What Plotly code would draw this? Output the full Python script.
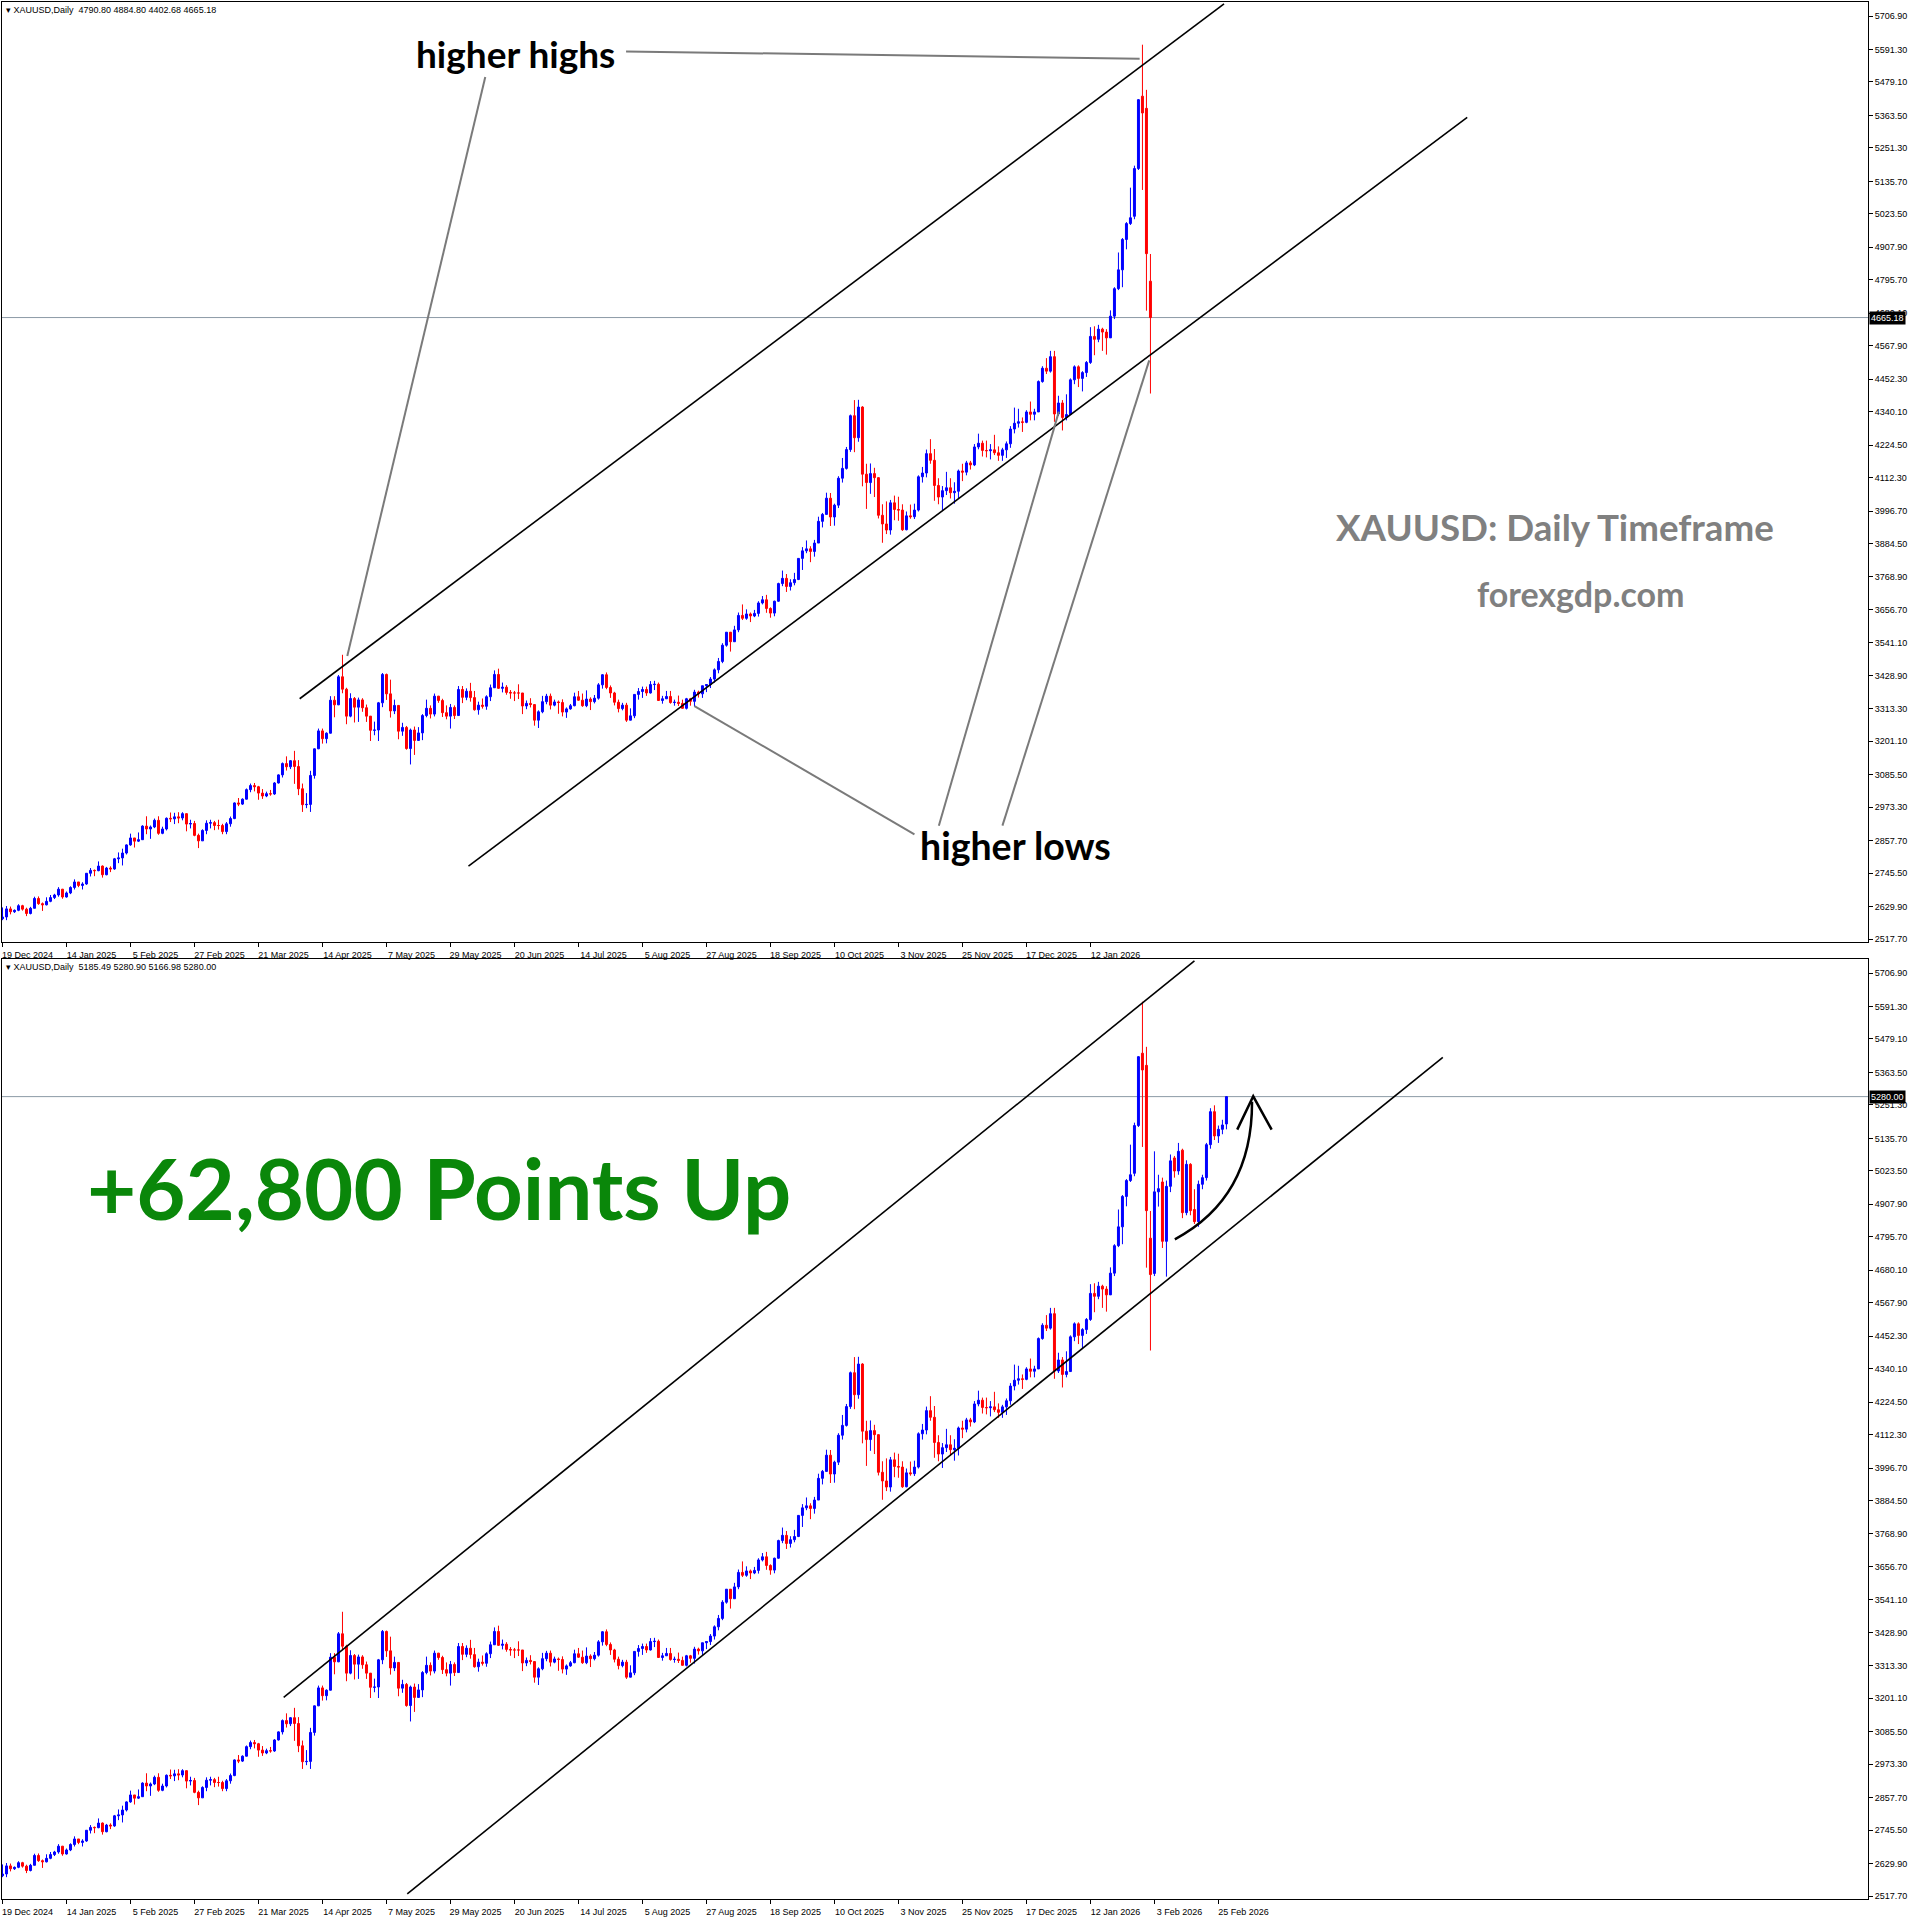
import plotly.graph_objects as go

# ---------------- DATA (XAUUSD daily) ----------------
date_labels = ["19 Dec 2024", "14 Jan 2025", "5 Feb 2025", "27 Feb 2025", "21 Mar 2025",
               "14 Apr 2025", "7 May 2025", "29 May 2025", "20 Jun 2025", "14 Jul 2025",
               "5 Aug 2025", "27 Aug 2025", "18 Sep 2025", "10 Oct 2025", "3 Nov 2025",
               "25 Nov 2025", "17 Dec 2025", "12 Jan 2026", "3 Feb 2026", "25 Feb 2026"]
date_label_bars = [0, 16, 32, 48, 64, 80, 96, 112, 128, 144, 160, 176, 192, 208, 224, 240, 256, 272, 288, 304]

price_ticks = [5706.90, 5591.30, 5479.10, 5363.50, 5251.30, 5135.70, 5023.50, 4907.90, 4795.70,
               4680.10, 4567.90, 4452.30, 4340.10, 4224.50, 4112.30, 3996.70, 3884.50, 3768.90,
               3656.70, 3541.10, 3428.90, 3313.30, 3201.10, 3085.50, 2973.30, 2857.70, 2745.50,
               2629.90, 2517.70]

opens = [
    # Dec 2024
    2588, 2594, 2622, 2612, 2617, 2633, 2621, 2606,
    # Jan 2025
    2624, 2658, 2640, 2636, 2648, 2661, 2670, 2690, 2663, 2677, 2696, 2715, 2703, 2708, 2745, 2755, 2754, 2770, 2740, 2763, 2760, 2795,
    # Feb
    2798, 2815, 2843, 2867, 2856, 2861, 2908, 2898, 2905, 2928, 2883, 2898, 2935, 2933, 2940, 2936, 2951, 2915, 2917, 2876,
    # Mar
    2857, 2893, 2918, 2920, 2910, 2910, 2889, 2916, 2934, 2988, 2984, 3001, 3034, 3048, 3044, 3022, 3012, 3020, 3019, 3057, 3085,
    # Apr
    3124, 3113, 3134, 3114, 3037, 2982, 2983, 3083, 3175, 3237, 3210, 3229, 3343, 3327, 3424, 3381, 3288, 3349, 3319, 3344, 3317,
    # May
    3288, 3239, 3240, 3334, 3432, 3365, 3306, 3325, 3236, 3249, 3176, 3240, 3204, 3230, 3290, 3315, 3295, 3357, 3342, 3300, 3288, 3318,
    # Jun
    3290, 3380, 3353, 3374, 3352, 3310, 3326, 3322, 3355, 3386, 3432, 3384, 3388, 3370, 3368, 3368, 3368, 3323, 3332, 3328, 3274,
    # Jul
    3303, 3338, 3357, 3326, 3337, 3335, 3302, 3313, 3324, 3355, 3343, 3324, 3347, 3338, 3350, 3396, 3431, 3387, 3368, 3336, 3314, 3326, 3274,
    # Aug
    3289, 3363, 3373, 3380, 3368, 3397, 3398, 3342, 3348, 3356, 3335, 3336, 3332, 3315, 3348, 3339, 3371, 3365, 3393, 3397, 3416,
    # Sep
    3448, 3477, 3533, 3578, 3545, 3586, 3636, 3626, 3641, 3634, 3643, 3679, 3690, 3660, 3644, 3685, 3746, 3764, 3736, 3749, 3760, 3833,
    # Oct
    3859, 3866, 3857, 3886, 3961, 3985, 4041, 3976, 4017, 4110, 4144, 4209, 4326, 4250, 4356, 4124, 4095, 4126, 4112, 3982, 3952, 3931, 4025,
    # Nov
    4002, 4000, 3932, 3980, 3977, 4000, 4115, 4128, 4195, 4172, 4085, 4045, 4067, 4077, 4060, 4065, 4135, 4131, 4163, 4156,
    # Dec
    4218, 4231, 4206, 4205, 4208, 4198, 4189, 4208, 4229, 4280, 4300, 4305, 4303, 4339, 4331, 4339, 4444, 4490, 4480, 4530, 4332, 4370,
    # Jan 2026
    4320, 4330, 4450, 4495, 4455, 4475, 4510, 4600, 4590, 4625, 4615, 4595, 4670, 4765, 4830, 4935, 4990, 5015, 5180, 5430, 5388,
    # Feb 2026
    4790.80, 4669, 4951, 4985, 4780, 4970, 5068, 5023, 5095, 4879, 5046, 4890, 4848, 4977, 5000, 5114, 5228, 5144, 5167, 5185.49,
]
highs = [
    2627, 2632, 2630, 2620, 2638, 2636, 2626, 2629,
    2664, 2665, 2644, 2662, 2670, 2674, 2697, 2691, 2682, 2700, 2724, 2715, 2714, 2746, 2763, 2758, 2786, 2772, 2767, 2769, 2798, 2817,
    2830, 2845, 2882, 2867, 2886, 2911, 2942, 2910, 2934, 2942, 2906, 2938, 2955, 2954, 2956, 2956, 2952, 2930, 2926, 2882,
    2897, 2928, 2930, 2926, 2930, 2916, 2922, 2941, 2990, 3005, 3004, 3038, 3055, 3057, 3047, 3036, 3027, 3033, 3060, 3087, 3128,
    3149, 3136, 3168, 3136, 3055, 3022, 3099, 3176, 3245, 3245, 3232, 3357, 3357, 3430, 3500, 3386, 3367, 3354, 3352, 3350, 3328,
    3269, 3269, 3337, 3437, 3435, 3414, 3345, 3298, 3265, 3254, 3245, 3252, 3250, 3295, 3345, 3325, 3366, 3358, 3348, 3325, 3330, 3325,
    3392, 3392, 3384, 3403, 3375, 3338, 3349, 3360, 3397, 3446, 3452, 3404, 3395, 3378, 3375, 3398, 3368, 3342, 3350, 3329, 3308,
    3358, 3365, 3366, 3345, 3342, 3346, 3318, 3330, 3369, 3375, 3366, 3377, 3353, 3361, 3402, 3433, 3439, 3394, 3372, 3345, 3334, 3334, 3315,
    3363, 3385, 3390, 3390, 3409, 3410, 3404, 3358, 3375, 3375, 3345, 3359, 3345, 3351, 3351, 3379, 3376, 3393, 3398, 3423, 3453,
    3489, 3540, 3578, 3564, 3600, 3646, 3674, 3657, 3646, 3655, 3685, 3703, 3707, 3664, 3687, 3749, 3791, 3779, 3761, 3783, 3834, 3872,
    3895, 3875, 3897, 3977, 3990, 4060, 4059, 4022, 4117, 4180, 4218, 4330, 4380, 4381, 4359, 4160, 4161, 4146, 4095, 4020, 4030, 4035, 4050,
    4046, 4020, 3995, 4019, 4022, 4120, 4149, 4209, 4245, 4211, 4110, 4083, 4132, 4110, 4096, 4140, 4160, 4170, 4170, 4228,
    4264, 4240, 4240, 4228, 4260, 4220, 4215, 4237, 4290, 4354, 4350, 4320, 4345, 4375, 4350, 4448, 4497, 4525, 4550, 4550, 4395, 4380,
    4400, 4455, 4500, 4500, 4480, 4515, 4632, 4635, 4640, 4630, 4625, 4690, 4770, 4890, 4940, 4995, 5114, 5190, 5420, 5608, 5452,
    4884.80, 5091, 5010, 5000, 4990, 5080, 5075, 5120, 5100, 5060, 5050, 4960, 4990, 5010, 5120, 5240, 5250, 5180, 5200, 5280.90,
]
lows = [
    2583, 2583, 2603, 2608, 2614, 2616, 2597, 2603,
    2624, 2636, 2615, 2634, 2645, 2656, 2664, 2657, 2661, 2673, 2689, 2697, 2689, 2705, 2734, 2735, 2752, 2730, 2738, 2749, 2757, 2780,
    2772, 2810, 2840, 2834, 2853, 2860, 2880, 2864, 2901, 2878, 2880, 2893, 2922, 2915, 2918, 2928, 2890, 2900, 2873, 2832,
    2857, 2880, 2900, 2894, 2896, 2880, 2880, 2906, 2932, 2977, 2981, 3000, 3025, 3028, 2999, 3002, 3008, 3013, 3016, 3055, 3076,
    3100, 3105, 3054, 3015, 2957, 2970, 2957, 3072, 3174, 3193, 3194, 3228, 3284, 3326, 3367, 3260, 3284, 3266, 3268, 3303, 3268,
    3202, 3222, 3202, 3319, 3344, 3283, 3295, 3208, 3220, 3172, 3121, 3154, 3206, 3205, 3284, 3280, 3287, 3334, 3285, 3277, 3245, 3278,
    3290, 3333, 3343, 3338, 3307, 3293, 3314, 3310, 3340, 3397, 3382, 3370, 3362, 3348, 3340, 3347, 3295, 3312, 3318, 3255, 3247,
    3298, 3329, 3311, 3322, 3296, 3287, 3282, 3310, 3322, 3341, 3320, 3319, 3309, 3332, 3345, 3383, 3381, 3351, 3325, 3301, 3308, 3268, 3281,
    3281, 3345, 3351, 3358, 3366, 3378, 3341, 3331, 3347, 3331, 3324, 3323, 3314, 3311, 3324, 3321, 3352, 3351, 3371, 3385, 3404,
    3436, 3471, 3528, 3511, 3545, 3578, 3620, 3621, 3613, 3630, 3632, 3674, 3645, 3628, 3633, 3683, 3737, 3717, 3722, 3740, 3758, 3793,
    3851, 3820, 3839, 3886, 3940, 3985, 3945, 3946, 4007, 4095, 4140, 4201, 4200, 4236, 4082, 4004, 4056, 4045, 3971, 3887, 3917, 3915, 3965,
    3963, 3928, 3930, 3970, 3969, 3995, 4095, 4113, 4160, 4032, 4020, 3997, 4052, 4040, 4022, 4040, 4100, 4120, 4140, 4152,
    4210, 4185, 4182, 4175, 4190, 4170, 4170, 4180, 4215, 4265, 4285, 4270, 4300, 4310, 4310, 4340, 4440, 4470, 4475, 4305, 4325, 4275,
    4310, 4330, 4435, 4425, 4410, 4460, 4505, 4535, 4580, 4550, 4537, 4600, 4660, 4760, 4770, 4901, 4985, 5005, 5175, 5106, 4689,
    4402.68, 4660, 4900, 4757, 4658, 4950, 5000, 5010, 4860, 4870, 4870, 4840, 4830, 4960, 4990, 5100, 5130, 5120, 5150, 5166.98,
]
closes = [
    2594, 2622, 2612, 2617, 2633, 2621, 2606, 2624,
    2658, 2640, 2636, 2648, 2661, 2670, 2690, 2663, 2677, 2696, 2715, 2703, 2708, 2745, 2755, 2754, 2770, 2740, 2763, 2760, 2795, 2798,
    2815, 2843, 2867, 2856, 2861, 2908, 2898, 2905, 2928, 2883, 2898, 2935, 2933, 2940, 2936, 2951, 2915, 2917, 2876, 2857,
    2893, 2918, 2920, 2910, 2910, 2889, 2916, 2934, 2988, 2984, 3001, 3034, 3048, 3044, 3022, 3012, 3020, 3019, 3057, 3085, 3124,
    3113, 3134, 3114, 3037, 2982, 2983, 3083, 3175, 3237, 3210, 3229, 3343, 3327, 3424, 3381, 3288, 3349, 3319, 3344, 3317, 3288,
    3239, 3240, 3334, 3432, 3365, 3306, 3325, 3236, 3249, 3176, 3240, 3204, 3230, 3290, 3315, 3295, 3357, 3342, 3300, 3288, 3318, 3290,
    3380, 3353, 3374, 3352, 3310, 3326, 3322, 3355, 3386, 3432, 3384, 3388, 3370, 3368, 3368, 3368, 3323, 3332, 3328, 3274, 3303,
    3338, 3357, 3326, 3337, 3335, 3302, 3313, 3324, 3355, 3343, 3324, 3347, 3338, 3350, 3396, 3431, 3387, 3368, 3336, 3314, 3326, 3274, 3289,
    3363, 3373, 3380, 3368, 3397, 3398, 3342, 3348, 3356, 3335, 3336, 3332, 3315, 3348, 3339, 3371, 3365, 3393, 3397, 3416, 3448,
    3477, 3533, 3578, 3545, 3586, 3636, 3626, 3641, 3634, 3643, 3679, 3690, 3660, 3644, 3685, 3746, 3764, 3736, 3749, 3760, 3833, 3859,
    3866, 3857, 3886, 3961, 3985, 4041, 3976, 4017, 4110, 4144, 4209, 4326, 4250, 4356, 4124, 4095, 4126, 4112, 3982, 3952, 3931, 4025, 4002,
    4000, 3932, 3980, 3977, 4000, 4115, 4128, 4195, 4172, 4085, 4045, 4067, 4077, 4060, 4065, 4135, 4131, 4163, 4156, 4218,
    4231, 4206, 4205, 4208, 4198, 4189, 4208, 4229, 4280, 4300, 4305, 4303, 4339, 4331, 4339, 4444, 4490, 4480, 4530, 4332, 4370, 4320,
    4330, 4450, 4495, 4455, 4475, 4510, 4600, 4590, 4625, 4615, 4595, 4670, 4765, 4830, 4935, 4990, 5010, 5180, 5418, 5372, 4886,
    4665.18, 4951, 4962, 4780, 4970, 5058, 5023, 5091, 4879, 5046, 4886, 4848, 4977, 5000, 5114, 5228, 5144, 5167, 5182, 5280.00,
]
top_bar_count = 288        # upper chart ends on 2 Feb 2026 (bar still forming)
top_header = "XAUUSD,Daily  4790.80 4884.80 4402.68 4665.18"
bottom_header = "XAUUSD,Daily  5185.49 5280.90 5166.98 5280.00"
top_last_price = 4665.18
bottom_last_price = 5280.00

# trend-line anchors (bar index, price)
top_upper_channel = ([74.3, 305.4], [3348.1, 5749.4])
top_lower_channel = ([116.5, 366.2], [2770.0, 5356.9])
bot_upper_channel = ([70.3, 298.0], [3204.6, 5749.0])
bot_lower_channel = ([101.2, 360.1], [2525.0, 5416.0])
hh_pointers = [([155.9, 284.3], [5584.7, 5559.5]), ([120.7, 86.2], [5496.4, 3495.8])]
hl_pointers = [([228.0, 173.0], [2879.8, 3322.9]), ([234.1, 264.1], [2909.5, 4340.1]),
               ([250.0, 286.7], [2909.5, 4517.2])]

# ---------------- FIGURE ----------------
n = min(len(opens), len(highs), len(lows), len(closes))
bars = list(range(n))
W, H = 1916, 1917
BLUE, RED = "#0000FF", "#FF0000"
AX_FONT = dict(family="Liberation Sans, Arial, sans-serif", size=9, color="black")
TXT_FONT = "Lato, Open Sans, sans-serif"

x_dom = [2 / W, 1868 / W]
top_dom = [1 - 943 / H, 1 - 2 / H]
bot_dom = [1 - 1901 / H, 1 - 960 / H]
y_range = [2507.5, 5755.5]
x_range = [-0.125, 466.4]


def candles(k, xa, ya):
    return go.Candlestick(
        x=bars[:k], open=opens[:k], high=highs[:k], low=lows[:k], close=closes[:k],
        increasing=dict(line=dict(color=BLUE, width=1), fillcolor=BLUE),
        decreasing=dict(line=dict(color=RED, width=1), fillcolor=RED),
        whiskerwidth=0, xaxis=xa, yaxis=ya, showlegend=False, hoverinfo="skip")


fig = go.Figure()
fig.add_trace(candles(top_bar_count, "x", "y"))
fig.add_trace(candles(n, "x2", "y2"))

ticktext = [f"{v:.2f}" for v in price_ticks]


def xaxis(dom, anchor, k):
    return dict(domain=x_dom, anchor=anchor, range=x_range, showgrid=False, zeroline=False,
                showline=True, linecolor="black", linewidth=1, mirror=True,
                ticks="outside", ticklen=4, tickcolor="black", tickwidth=1,
                tickvals=date_label_bars[:k], ticktext=date_labels[:k], tickfont=AX_FONT,
                ticklabelshift=25, ticklabelstandoff=0,
                rangeslider=dict(visible=False), fixedrange=True)


def yaxis(dom, anchor):
    return dict(domain=dom, anchor=anchor, range=y_range, side="right", showgrid=False,
                zeroline=False, showline=True, linecolor="black", linewidth=1, mirror=True,
                ticks="outside", ticklen=4, tickcolor="black", tickvals=price_ticks,
                ticktext=ticktext, tickfont=AX_FONT, fixedrange=True)


fig.update_layout(
    width=W, height=H, margin=dict(l=0, r=0, t=0, b=0),
    paper_bgcolor="white", plot_bgcolor="white", showlegend=False,
    boxgap=0.3, boxgroupgap=0.3,
    xaxis=xaxis(top_dom, "y", 18), yaxis=yaxis(top_dom, "x"),
    xaxis2=xaxis(bot_dom, "y2", 20), yaxis2=yaxis(bot_dom, "x2"),
)

shapes = []


def seg(xs, ys, xref, yref, color="black", width=1.6):
    shapes.append(dict(type="line", xref=xref, yref=yref, x0=xs[0], x1=xs[1], y0=ys[0], y1=ys[1],
                       line=dict(color=color, width=width), layer="above"))


# current price lines
for yref, xd, p in (("y", "x domain", top_last_price), ("y2", "x2 domain", bottom_last_price)):
    shapes.append(dict(type="line", xref=xd, yref=yref, x0=0, x1=1, y0=p, y1=p,
                       line=dict(color="#8c9aa6", width=1), layer="below"))

seg(*top_upper_channel, "x", "y")
seg(*top_lower_channel, "x", "y")
seg(*bot_upper_channel, "x2", "y2")
seg(*bot_lower_channel, "x2", "y2")
for xs, ys in hh_pointers + hl_pointers:
    seg(xs, ys, "x", "y", color="#7a7a7a", width=2)

# curved arrow in lower chart
shapes.append(dict(type="path", xref="x2", yref="y2",
                   path="M 293.1,4787 Q 312.5,4930 312.4,5262",
                   line=dict(color="black", width=2.5)))
shapes.append(dict(type="path", xref="x2", yref="y2",
                   path="M 308.7,5166 L 312.7,5281 L 317.3,5166",
                   line=dict(color="black", width=2.5)))

fig.update_layout(shapes=shapes)

ann = []
# headers
ann.append(dict(xref="paper", yref="paper", x=4 / W, y=1 - 10 / H, xanchor="left", yanchor="middle",
                text="▾ " + top_header, showarrow=False, font=AX_FONT))
ann.append(dict(xref="paper", yref="paper", x=4 / W, y=1 - 968 / H, xanchor="left", yanchor="middle",
                text="▾ " + bottom_header, showarrow=False, font=AX_FONT))
# price boxes
for yref, p in (("y", top_last_price), ("y2", bottom_last_price)):
    ann.append(dict(xref="paper", yref=yref, x=1869 / W, y=p, xanchor="left", yanchor="middle",
                    text=f"{p:.2f}", showarrow=False, bgcolor="black", borderpad=1,
                    font=dict(family=AX_FONT["family"], size=9, color="white")))
# texts
ann.append(dict(xref="x", yref="y", x=128.2, y=5576, text="<b>higher highs</b>", showarrow=False,
                font=dict(family=TXT_FONT, size=37, color="black")))
ann.append(dict(xref="x", yref="y", x=253.2, y=2842, text="<b>higher lows</b>", showarrow=False,
                font=dict(family=TXT_FONT, size=37.5, color="black")))
ann.append(dict(xref="x", yref="y", x=388.2, y=3943, text="<b>XAUUSD: Daily Timeframe</b>", showarrow=False,
                font=dict(family=TXT_FONT, size=36.7, color="#808080")))
ann.append(dict(xref="x", yref="y", x=394.6, y=3711, text="<b>forexgdp.com</b>", showarrow=False,
                font=dict(family=TXT_FONT, size=34, color="#808080")))
ann.append(dict(xref="x2", yref="y2", x=109.1, y=4968, text="<b>+62,800 Points Up</b>", showarrow=False,
                font=dict(family=TXT_FONT, size=85, color="#0a870a")))
fig.update_layout(annotations=ann)

fig.write_html("out.html")
